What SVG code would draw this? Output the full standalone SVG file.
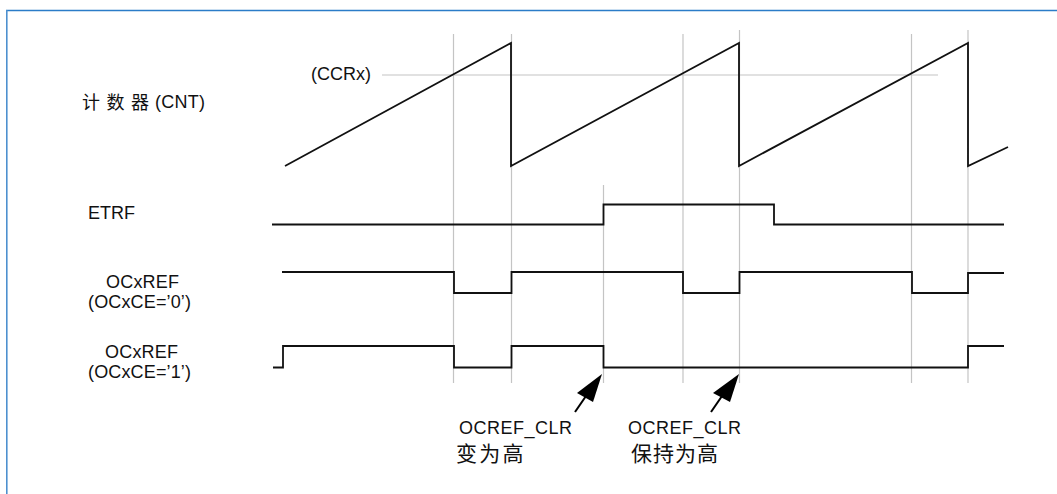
<svg xmlns="http://www.w3.org/2000/svg" width="1057" height="494" viewBox="0 0 1057 494">
<style>
.lbl{font-family:"Liberation Sans","Noto Sans CJK SC",Arial,sans-serif;font-size:18px;fill:#111}
.cjk{font-family:"Noto Sans CJK SC","Liberation Sans",sans-serif;fill:#111}
.sig{fill:none;stroke:#111;stroke-width:1.8;stroke-linejoin:miter}
.grid{fill:none;stroke:#c4c4c4;stroke-width:1.2}
.arr{fill:none;stroke:#000;stroke-width:2}
.head{fill:#000;stroke:none}
</style>
<rect width="1057" height="494" fill="#fff"/>
<g id="frame">
<line x1="6" y1="10.5" x2="1057" y2="10.5" stroke="#2b7cc8" stroke-width="1.5"/>
<line x1="6.8" y1="10" x2="6.8" y2="494" stroke="#4d90cf" stroke-width="1.6"/>
</g>
<g id="grid">
<line class="grid" x1="453.5" y1="34" x2="453.5" y2="383"/>
<line class="grid" x1="511.5" y1="34" x2="511.5" y2="383"/>
<line class="grid" x1="603.5" y1="185" x2="603.5" y2="383"/>
<line class="grid" x1="683" y1="34" x2="683" y2="383"/>
<line class="grid" x1="739.5" y1="30" x2="739.5" y2="383"/>
<line class="grid" x1="911.5" y1="34" x2="911.5" y2="383"/>
<line class="grid" x1="968" y1="30" x2="968" y2="383"/>
<line class="grid" x1="382" y1="75" x2="938" y2="75"/>
</g>
<g id="cnt">
<text class="cjk" x="82" y="109" font-size="18" letter-spacing="6.5">计数器</text>
<text class="lbl" x="155" y="108" textLength="50">(CNT)</text>
<text class="lbl" x="311" y="80" textLength="60">(CCRx)</text>
<polyline class="sig" points="285,166 511,43 511,166 739,43 739,166 968,43 968,166 1008,147"/>
</g>
<g id="etrf">
<text class="lbl" x="88" y="219" textLength="47">ETRF</text>
<polyline class="sig" points="272,224.5 603.5,224.5 603.5,204.5 774,204.5 774,224.5 1004,224.5"/>
</g>
<g id="ocxref0">
<text class="lbl" x="106" y="288" textLength="73">OCxREF</text>
<text class="lbl" x="88" y="308" textLength="103">(OCxCE=’0’)</text>
<polyline class="sig" points="282,272 454,272 454,293 511.5,293 511.5,272 683,272 683,293 739.5,293 739.5,272 912,272 912,293 968,293 968,273 1004,273"/>
</g>
<g id="ocxref1">
<text class="lbl" x="105" y="358" textLength="73">OCxREF</text>
<text class="lbl" x="88" y="378" textLength="103">(OCxCE=’1’)</text>
<polyline class="sig" points="273,367.5 283,367.5 283,346 454,346 454,367.5 511.5,367.5 511.5,346 603.5,346 603.5,367.5 968,367.5 968,346 1004,346"/>
</g>
<g id="note1">
<text class="lbl" x="459" y="434" textLength="113">OCREF_CLR</text>
<text class="cjk" x="456" y="461" font-size="21" letter-spacing="2.3">变为高</text>
</g>
<g id="note2">
<text class="lbl" x="628" y="434" textLength="113">OCREF_CLR</text>
<text class="cjk" x="631" y="461" font-size="21" letter-spacing="1">保持为高</text>
</g>
<g id="connectors">
<line class="arr" x1="575" y1="412" x2="586" y2="396"/>
<polygon class="head" points="602,374 577,393 593,402"/>
<line class="arr" x1="711" y1="412" x2="722" y2="396"/>
<polygon class="head" points="739,374 713,393 730,402"/>
</g>
</svg>
